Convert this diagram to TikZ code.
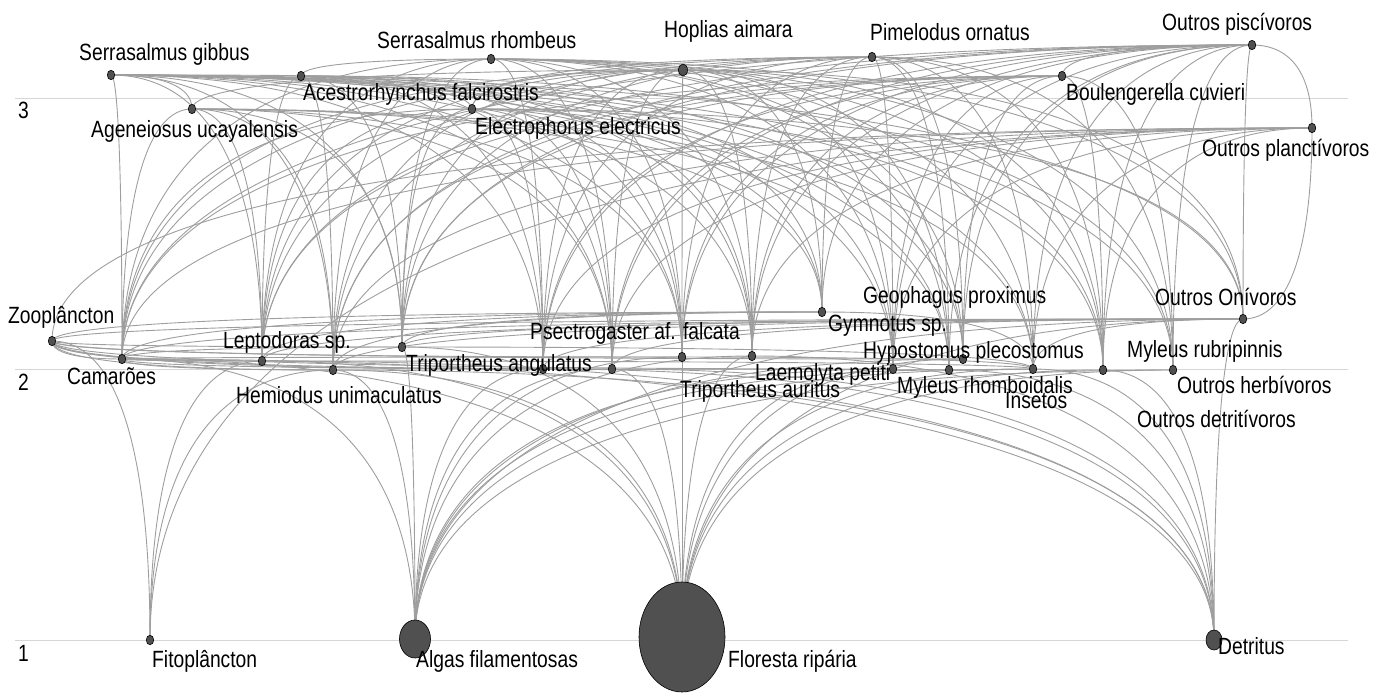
\documentclass[tikz,border=0pt]{standalone}
\usepackage{fontspec}
\setmainfont{Liberation Sans}
\newfontfamily\webfont[FakeStretch=0.82]{Liberation Sans}
\usetikzlibrary{calc,shapes.geometric,backgrounds}

\definecolor{linkgray}{HTML}{9E9E9E}
\definecolor{levelgray}{HTML}{D6D6D6}
\definecolor{dotgray}{HTML}{505050}

\begin{document}
\begin{tikzpicture}[x=1pt,y=-1pt,
    sp node/.style={ellipse,draw=black,fill=dotgray,line width=0.6pt,inner sep=0pt,
                    minimum width=7.5pt,minimum height=9.5pt},
    name text/.style={anchor=base west,inner sep=0pt,text=black,
                      font=\webfont\fontsize{23.5}{26}\selectfont},
    food link/.style={draw=linkgray,line width=0.9pt,
      to path={.. controls ($(\tikztostart)!0.65!(\tikztostart|-\tikztotarget)$)
                and ($(\tikztotarget)!0.65!(\tikztotarget-|\tikztostart)$) .. (\tikztotarget)}}]

  \useasboundingbox (0,0) rectangle (1383,696);

  % trophic levels
  \node[name text] (lev3) at (18,118) {3};
  \node[name text] (lev2) at (18,390) {2};
  \node[name text] (lev1) at (18,661) {1};

  % level 3
  \node[sp node] (sgib) at (111,75) {};
  \node[sp node] (acfa) at (301,76) {};
  \node[sp node] (ageu) at (192,109) {};
  \node[sp node] (srho) at (491,59) {};
  \node[sp node] (elel) at (472,109) {};
  \node[sp node,minimum width=9pt,minimum height=12pt] (hopl) at (683,70) {};
  \node[sp node] (pime) at (872,57) {};
  \node[sp node] (opis) at (1252,45) {};
  \node[sp node] (bocu) at (1062,76) {};
  \node[sp node] (opla) at (1312,128) {};

  % level 2
  \node[sp node] (zoop) at (52,341) {};
  \node[sp node] (cama) at (122,359) {};
  \node[sp node] (lept) at (262,361) {};
  \node[sp node] (hemi) at (333,370) {};
  \node[sp node] (tang) at (402,347) {};
  \node[sp node] (psec) at (543,369) {};
  \node[sp node] (geop) at (612,369) {};
  \node[sp node] (taur) at (682,357) {};
  \node[sp node] (laem) at (752,356) {};
  \node[sp node] (gymn) at (822,312) {};
  \node[sp node] (myrh) at (893,369) {};
  \node[sp node] (hypo) at (949,370) {};
  \node[sp node] (mrub) at (963,359) {};
  \node[sp node] (inse) at (1033,369) {};
  \node[sp node] (odet) at (1103,370) {};
  \node[sp node] (oher) at (1173,370) {};
  \node[sp node] (oniv) at (1243,319) {};

  % level 1
  \node[sp node] (fito) at (150,640) {};
  \node[sp node,minimum width=31pt,minimum height=38pt] (alga) at (415,639) {};
  \node[sp node,minimum width=86pt,minimum height=110pt] (flor) at (682,637) {};
  \node[sp node,minimum width=16pt,minimum height=20pt] (detr) at (1214,640) {};

  % names
  \node[name text] (sgibT) at (79,60) {Serrasalmus gibbus};
  \node[name text] (acfaT) at (303,100) {Acestrorhynchus falcirostris};
  \node[name text] (ageuT) at (91,137) {Ageneiosus ucayalensis};
  \node[name text] (srhoT) at (377,48) {Serrasalmus rhombeus};
  \node[name text] (elelT) at (475,134) {Electrophorus electricus};
  \node[name text] (hoplT) at (664,37) {Hoplias aimara};
  \node[name text] (pimeT) at (870,40) {Pimelodus ornatus};
  \node[name text] (opisT) at (1162,30) {Outros piscívoros};
  \node[name text] (bocuT) at (1066,100) {Boulengerella cuvieri};
  \node[name text] (oplaT) at (1202,156) {Outros planctívoros};

  \node[name text] (zoopT) at (8,323) {Zooplâncton};
  \node[name text] (camaT) at (67,384) {Camarões};
  \node[name text] (leptT) at (223,348) {Leptodoras sp.};
  \node[name text] (hemiT) at (236,403) {Hemiodus unimaculatus};
  \node[name text] (tangT) at (406,371) {Triportheus angulatus};
  \node[name text] (psecT) at (530,339) {Psectrogaster af. falcata};
  \node[name text] (taurT) at (680,397) {Triportheus auritus};
  \node[name text] (laemT) at (755,380) {Laemolyta petiti};
  \node[name text] (gymnT) at (828,331) {Gymnotus sp.};
  \node[name text] (geopT) at (863,303) {Geophagus proximus};
  \node[name text] (hypoT) at (863,358) {Hypostomus plecostomus};
  \node[name text] (myrhT) at (897,393) {Myleus rhomboidalis};
  \node[name text] (inseT) at (1005,408) {Insetos};
  \node[name text] (odetT) at (1137,427) {Outros detritívoros};
  \node[name text] (mrubT) at (1127,357) {Myleus rubripinnis};
  \node[name text] (oherT) at (1177,393) {Outros herbívoros};
  \node[name text] (onivT) at (1155,305) {Outros Onívoros};

  \node[name text] (fitoT) at (152,667) {Fitoplâncton};
  \node[name text] (algaT) at (416,667) {Algas filamentosas};
  \node[name text] (florT) at (728,667) {Floresta ripária};
  \node[name text] (detrT) at (1218,654) {Detritus};

  \begin{scope}[on background layer]
    \foreach \y in {98,369,640}
      \draw[levelgray,line width=1pt] (15,\y) -- (1348,\y);

    % who eats whom: predator/{prey}
    \foreach \pred/\preys in {
        sgib/{cama,lept,hemi,tang,psec,geop,taur,laem,gymn,myrh,hypo,mrub,oher,odet,oniv,inse,ageu,acfa,elel},
        srho/{cama,lept,hemi,tang,psec,geop,taur,laem,myrh,mrub,oher,oniv,inse,odet,hypo,acfa},
        hopl/{lept,hemi,tang,psec,geop,taur,laem,gymn,hypo,myrh,odet,oniv,ageu,elel,cama},
        pime/{cama,lept,hemi,tang,taur,laem,gymn,hypo,myrh,mrub,inse,odet,oher,elel,psec},
        opis/{hemi,tang,psec,geop,taur,laem,gymn,myrh,mrub,hypo,inse,oher,odet,oniv,opla,bocu,cama,lept},
        acfa/{hemi,tang,psec,geop,taur,laem,myrh,mrub,oher,lept},
        ageu/{cama,lept,hemi,tang,taur,gymn,hypo,inse,geop},
        elel/{lept,tang,psec,geop,taur,laem,gymn,odet,oniv,cama},
        bocu/{hemi,tang,psec,taur,laem,myrh,mrub,oher,geop,lept,cama,odet},
        opla/{zoop,fito,cama,hemi,psec,geop,laem,myrh,inse,odet},
        zoop/{fito},
        cama/{alga,flor,detr,zoop},
        lept/{inse,cama,detr,flor,fito,zoop},
        hemi/{alga,detr,zoop,fito,flor,cama},
        tang/{inse,flor,zoop,cama,alga},
        psec/{detr,alga,zoop},
        geop/{inse,detr,flor,alga,cama,zoop},
        taur/{flor,inse,alga,zoop,cama},
        laem/{detr,alga,flor},
        gymn/{inse,cama,zoop,tang,lept,hemi},
        myrh/{flor,alga,zoop},
        hypo/{detr,alga},
        mrub/{flor,alga,zoop},
        inse/{flor,detr,alga},
        odet/{detr,flor},
        oher/{flor,alga},
        oniv/{flor,inse,alga,detr,cama,zoop,tang,psec,lept,hemi,geop,opla}}
      \foreach \prey in \preys
        \path[food link] (\prey.center) edge (\pred.center);
  \end{scope}

\end{tikzpicture}
\end{document}
